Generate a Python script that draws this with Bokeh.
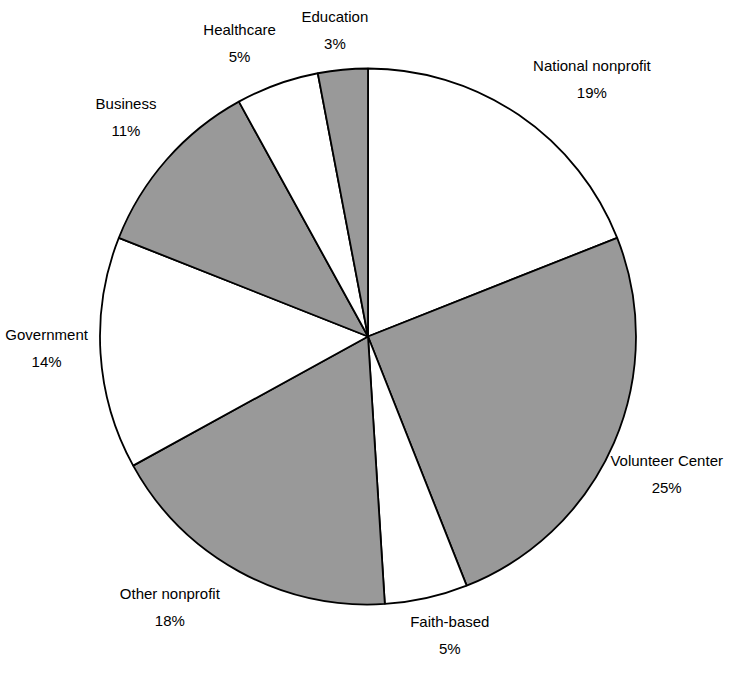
import math
from bokeh.plotting import figure
from bokeh.models import Range1d, ColumnDataSource
from bokeh.core.properties import value
from bokeh.embed import file_html
from bokeh.resources import INLINE

# ---- data ----
categories = ["National nonprofit", "Volunteer Center", "Faith-based", "Other nonprofit",
              "Government", "Business", "Healthcare", "Education"]
shares = [19, 25, 5, 18, 14, 11, 5, 3]

# ---- style / layout ----
fills = ["#ffffff", "#999999", "#ffffff", "#999999", "#ffffff", "#999999", "#ffffff", "#999999"]
W, H = 730, 657
CX, CY = 367.5, 321.0        # pie centre (data units = px)
R = 268.0
LABEL_DIST = 320.0
# label nudges (px, x right / y up) relative to radial point
label_nudge = [(44, -7), (5, -10), (12, 14), (-44, 10), (-2, 9), (-2, 8), (-20, -8), (-3, -12)]
FONT = "'Liberation Sans Narrow', 'Liberation Sans', sans-serif"

total = float(sum(shares))
starts, ends, lx, ly, pct = [], [], [], [], []
cum = 0.0
for s, (nx, ny) in zip(shares, label_nudge):
    t0 = cum / total * 2 * math.pi
    t1 = (cum + s) / total * 2 * math.pi
    cum += s
    starts.append(math.pi / 2 - t0)
    ends.append(math.pi / 2 - t1)
    tm = (t0 + t1) / 2
    lx.append(CX + LABEL_DIST * math.sin(tm) + nx)
    ly.append(CY + LABEL_DIST * math.cos(tm) + ny)
    pct.append(f"{s}%")

src = ColumnDataSource(dict(start=starts, end=ends, fill=fills, cat=categories,
                            pct=pct, lx=lx, ly=ly,
                            ly1=[y + 13.5 for y in ly], ly2=[y - 13.5 for y in ly]))

p = figure(width=W, height=H, output_backend="svg", toolbar_location=None,
           x_range=Range1d(0, W), y_range=Range1d(0, H), min_border=0)
p.axis.visible = False
p.grid.visible = False
p.outline_line_color = None
p.background_fill_color = "white"
p.border_fill_color = "white"

p.wedge(x=CX, y=CY, radius=R, start_angle="start", end_angle="end", direction="clock",
        fill_color="fill", line_color="black", line_width=1.8, source=src)

p.text(x="lx", y="ly1", text="cat", source=src, text_align="center", text_baseline="middle",
       text_font=value(FONT), text_font_size="15px", text_color="black")
p.text(x="lx", y="ly2", text="pct", source=src, text_align="center", text_baseline="middle",
       text_font=value(FONT), text_font_size="15px", text_color="black")

open("out.html", "w").write(file_html(p, INLINE))
